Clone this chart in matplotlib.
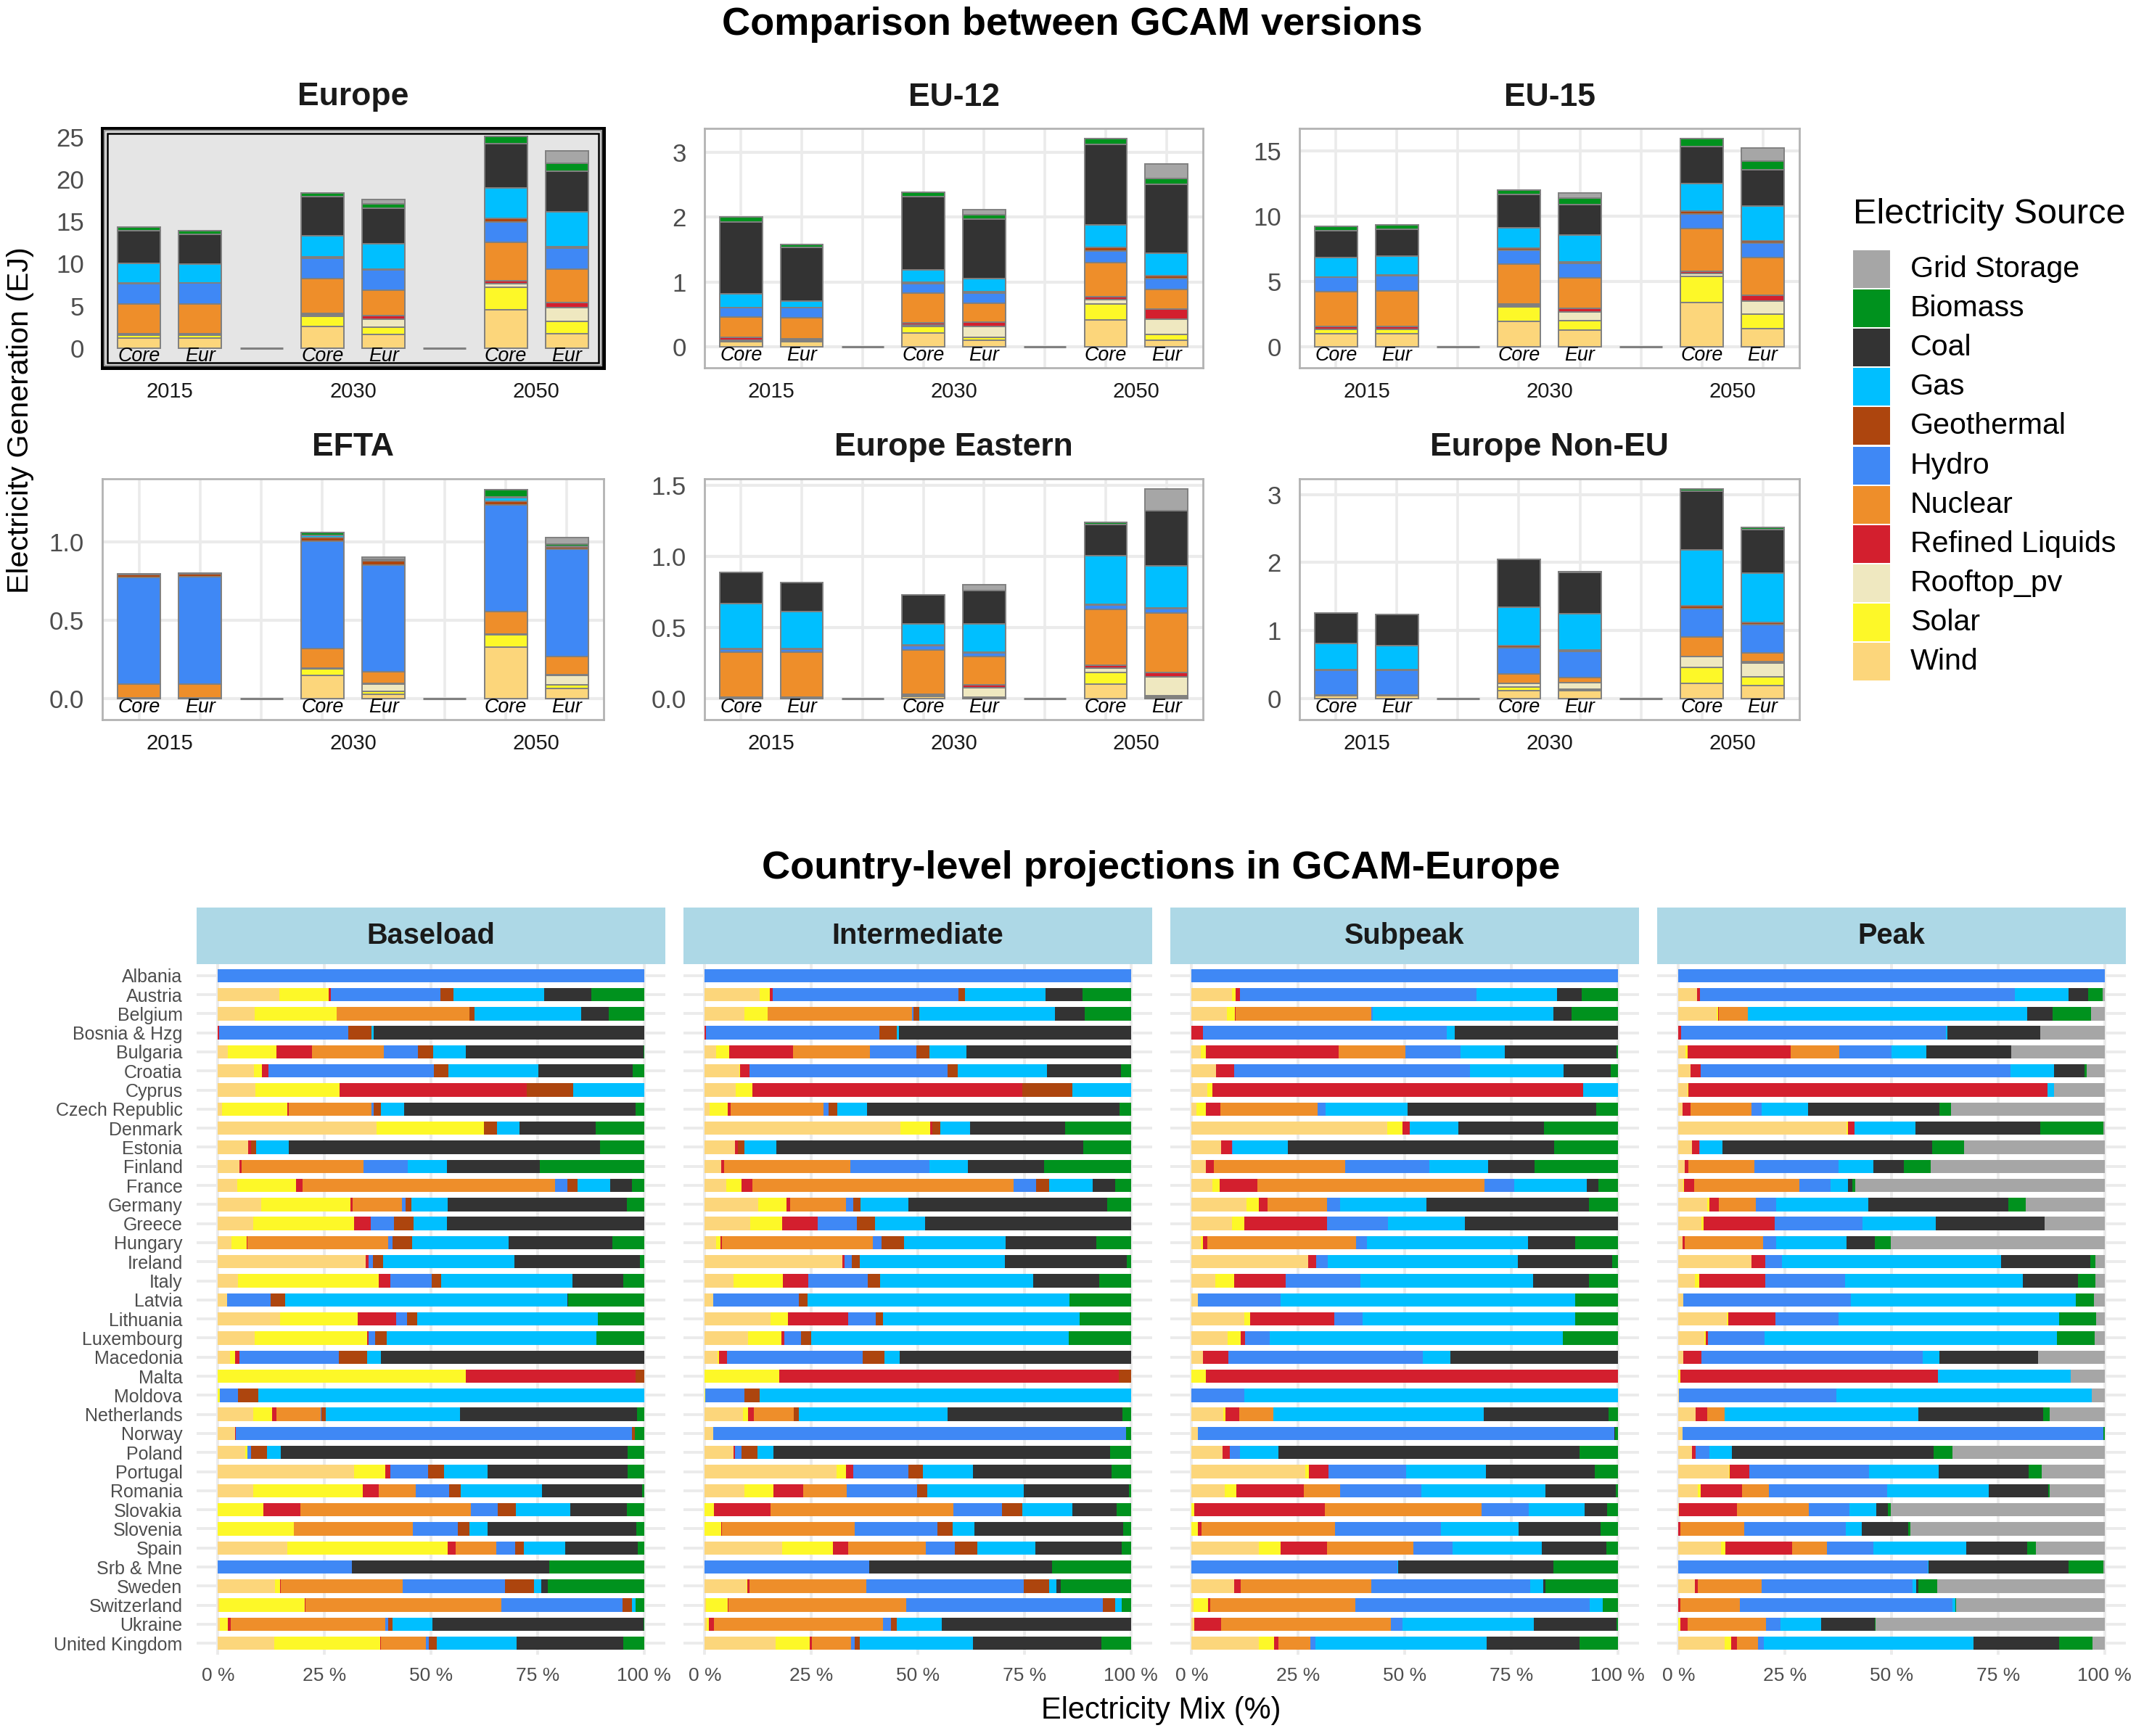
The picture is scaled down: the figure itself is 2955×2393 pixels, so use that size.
import numpy as np
import matplotlib
matplotlib.use("Agg")
import matplotlib.pyplot as plt
from matplotlib.patches import Rectangle

plt.rcParams['font.family'] = ['Liberation Sans', 'DejaVu Sans']

W, H, DPI = 2955, 2393, 200

# legend order (top -> bottom); stacking uses the reverse
sources = ['Grid Storage', 'Biomass', 'Coal', 'Gas', 'Geothermal', 'Hydro',
           'Nuclear', 'Refined Liquids', 'Rooftop_pv', 'Solar', 'Wind']
colors = ['#A6A6A6', '#00921E', '#333333', '#00BFFF', '#AD450E', '#3F88F5',
          '#EE8E2A', '#D31F2E', '#EFE8C0', '#FDF828', '#FCD67B']
stack = sources[::-1]
col_of = dict(zip(sources, colors))

# ---- top: generation by region (EJ); columns follow `stack`
# Wind, Solar, Rooftop_pv, Refined Liquids, Nuclear, Hydro, Geothermal, Gas, Coal, Biomass, Grid Storage
bar_labels = ['Core', 'Eur', 'Core', 'Eur', 'Core', 'Eur']
years = ['2015', '2030', '2050']
regions = ['Europe', 'EU-12', 'EU-15', 'EFTA', 'Europe Eastern', 'Europe Non-EU']

europe = [[1.16, 0.38, 0.05, 0.15, 3.50, 2.42, 0.05, 2.33, 3.87, 0.46, 0],
          [1.16, 0.38, 0.05, 0.15, 3.49, 2.47, 0.05, 2.19, 3.58, 0.38, 0],
          [2.53, 1.25, 0.15, 0.20, 4.10, 2.44, 0.17, 2.47, 4.62, 0.46, 0],
          [1.60, 0.87, 0.96, 0.41, 2.99, 2.41, 0.15, 2.96, 4.19, 0.58, 0.52],
          [4.56, 2.62, 0.47, 0.29, 4.62, 2.41, 0.38, 3.60, 5.26, 0.84, 0],
          [1.74, 1.45, 1.60, 0.64, 3.95, 2.44, 0.20, 4.10, 4.86, 0.90, 1.45]]
eu12 = [[0.075, 0.015, 0.015, 0.035, 0.32, 0.14, 0, 0.22, 1.10, 0.08, 0],
        [0.075, 0.015, 0.015, 0.02, 0.325, 0.153, 0, 0.105, 0.82, 0.05, 0],
        [0.21, 0.10, 0.026, 0.03, 0.456, 0.15, 0.026, 0.183, 1.13, 0.07, 0],
        [0.097, 0.045, 0.168, 0.075, 0.288, 0.15, 0.03, 0.198, 0.922, 0.067, 0.07],
        [0.415, 0.24, 0.075, 0.037, 0.53, 0.18, 0.052, 0.351, 1.244, 0.082, 0],
        [0.097, 0.093, 0.232, 0.157, 0.30, 0.176, 0.037, 0.347, 1.065, 0.09, 0.228]]
eu15 = [[0.98, 0.33, 0.02, 0.20, 2.69, 1.11, 0.02, 1.46, 2.08, 0.33, 0],
        [0.98, 0.33, 0.02, 0.20, 2.73, 1.20, 0.02, 1.46, 2.06, 0.32, 0],
        [1.97, 1.06, 0.13, 0.09, 3.06, 1.08, 0.15, 1.60, 2.52, 0.35, 0],
        [1.26, 0.74, 0.65, 0.32, 2.32, 1.11, 0.10, 2.04, 2.38, 0.50, 0.37],
        [3.40, 1.99, 0.20, 0.17, 3.31, 1.08, 0.26, 2.08, 2.84, 0.61, 0],
        [1.36, 1.15, 0.98, 0.43, 2.91, 1.11, 0.15, 2.71, 2.75, 0.70, 0.98]]
efta = [[0.005, 0, 0, 0, 0.085, 0.686, 0.016, 0.004, 0, 0, 0],
        [0.005, 0, 0, 0, 0.085, 0.690, 0.016, 0.004, 0, 0, 0],
        [0.148, 0.039, 0, 0.005, 0.128, 0.686, 0.023, 0.016, 0, 0.017, 0],
        [0.028, 0.016, 0.047, 0.003, 0.075, 0.682, 0.028, 0.005, 0, 0.005, 0.015],
        [0.328, 0.078, 0.005, 0, 0.143, 0.686, 0.020, 0.023, 0.005, 0.050, 0],
        [0.062, 0.023, 0.062, 0.003, 0.118, 0.686, 0.016, 0.005, 0, 0.013, 0.044]]
eastern = [[0.005, 0.003, 0, 0, 0.318, 0.023, 0.003, 0.318, 0.218, 0, 0],
           [0.005, 0.003, 0, 0, 0.318, 0.022, 0.003, 0.261, 0.205, 0, 0],
           [0.015, 0.008, 0.008, 0, 0.312, 0.027, 0.005, 0.150, 0.203, 0, 0],
           [0.008, 0.004, 0.065, 0.019, 0.201, 0.026, 0.005, 0.200, 0.232, 0, 0.043],
           [0.103, 0.079, 0.033, 0.017, 0.395, 0.034, 0.005, 0.339, 0.220, 0.014, 0],
           [0.010, 0.008, 0.137, 0.027, 0.419, 0.031, 0.005, 0.300, 0.386, 0, 0.151]]
non_eu = [[0.036, 0.005, 0, 0, 0.005, 0.37, 0.005, 0.39, 0.45, 0, 0],
          [0.036, 0.005, 0, 0, 0.005, 0.37, 0.005, 0.355, 0.455, 0, 0],
          [0.118, 0.054, 0.054, 0, 0.133, 0.387, 0.029, 0.563, 0.71, 0, 0],
          [0.111, 0.025, 0.10, 0, 0.068, 0.388, 0.025, 0.531, 0.603, 0.01, 0],
          [0.226, 0.233, 0.161, 0, 0.287, 0.413, 0.047, 0.815, 0.872, 0.025, 0],
          [0.190, 0.133, 0.197, 0.018, 0.136, 0.413, 0.036, 0.718, 0.646, 0.029, 0]]

ylims = [(-2.33, 26.02), (-0.325, 3.366), (-1.615, 16.73),
         (-0.136, 1.406), (-0.149, 1.548), (-0.312, 3.233)]
yticks = [[0, 5, 10, 15, 20, 25], [0, 1, 2, 3], [0, 5, 10, 15],
          [0.0, 0.5, 1.0], [0.0, 0.5, 1.0, 1.5], [0, 1, 2, 3]]
ytick_labels = [['0', '5', '10', '15', '20', '25'], ['0', '1', '2', '3'],
                ['0', '5', '10', '15'], ['0.0', '0.5', '1.0'],
                ['0.0', '0.5', '1.0', '1.5'], ['0', '1', '2', '3']]

# ---- bottom: electricity mix (%) per country and load segment, columns follow `stack`
countries = ['Albania', 'Austria', 'Belgium', 'Bosnia & Hzg', 'Bulgaria', 'Croatia', 'Cyprus',
             'Czech Republic', 'Denmark', 'Estonia', 'Finland', 'France', 'Germany', 'Greece',
             'Hungary', 'Ireland', 'Italy', 'Latvia', 'Lithuania', 'Luxembourg', 'Macedonia',
             'Malta', 'Moldova', 'Netherlands', 'Norway', 'Poland', 'Portugal', 'Romania',
             'Slovakia', 'Slovenia', 'Spain', 'Srb & Mne', 'Sweden', 'Switzerland', 'Ukraine',
             'United Kingdom']
segments = ['Baseload', 'Intermediate', 'Subpeak', 'Peak']
mix_ticks = [0, 25, 50, 75, 100]
mix_tick_labels = ['0 %', '25 %', '50 %', '75 %', '100 %']

baseload = [
    [0, 0, 0, 0, 0, 100, 0, 0, 0, 0, 0],
    [14.5, 11.6, 0, 0.4, 0, 25.8, 3.0, 21.3, 11.1, 12.4, 0],
    [8.7, 19.2, 0, 0, 31.2, 0, 1.2, 24.9, 6.5, 8.3, 0],
    [0, 0, 0, 0.2, 0, 30.4, 5.5, 0.4, 63.5, 0, 0],
    [2.4, 11.4, 0, 8.2, 16.9, 8.0, 3.6, 7.7, 41.7, 0.1, 0],
    [8.5, 1.9, 0, 1.4, 0, 39.0, 3.4, 21.0, 22.2, 2.7, 0],
    [8.8, 19.8, 0, 43.9, 0, 0, 10.8, 16.7, 0, 0, 0],
    [0.9, 15.3, 0, 0.4, 19.5, 0.4, 1.7, 5.5, 54.4, 1.9, 0],
    [37.3, 25.1, 0, 0, 0, 0, 3.1, 5.3, 17.9, 11.3, 0],
    [7.1, 0, 0, 0.6, 0, 0, 1.3, 7.6, 73.0, 10.3, 0],
    [5.1, 0, 0, 0.5, 28.5, 10.4, 0, 9.2, 21.8, 24.5, 0],
    [4.5, 13.9, 0, 1.4, 59.3, 2.9, 2.4, 7.7, 5.1, 2.8, 0],
    [10.1, 21.0, 0, 0.5, 11.6, 0.9, 1.4, 8.5, 42.1, 4.0, 0],
    [8.3, 23.7, 0, 3.9, 0, 5.3, 4.7, 7.8, 46.2, 0, 0],
    [3.2, 3.6, 0, 0.2, 32.9, 1.1, 4.6, 22.7, 24.3, 7.4, 0],
    [34.7, 0, 0, 0.7, 0, 0.9, 2.5, 30.7, 29.5, 0.9, 0],
    [4.7, 33.1, 0, 2.7, 0, 9.7, 2.1, 30.9, 11.9, 4.9, 0],
    [2.2, 0, 0, 0, 0, 10.2, 3.4, 66.1, 0.2, 17.8, 0],
    [14.6, 18.2, 0, 8.9, 0, 2.7, 2.4, 42.3, 0, 10.8, 0],
    [8.7, 26.3, 0, 0.3, 0, 1.6, 2.7, 49.2, 0, 11.2, 0],
    [2.9, 1.2, 0, 1.0, 0, 23.3, 6.7, 3.1, 61.8, 0, 0],
    [0, 58.1, 0, 40.0, 0, 0, 1.9, 0, 0, 0, 0],
    [0, 0.5, 0, 0, 0, 4.2, 4.8, 90.5, 0, 0, 0],
    [8.3, 4.5, 0, 0.9, 10.4, 0.2, 1.0, 31.5, 41.6, 1.7, 0],
    [4.0, 0, 0, 0.2, 0, 93.0, 0.6, 0, 0, 2.2, 0],
    [6.4, 0.5, 0, 0, 0, 0.8, 3.9, 3.2, 81.4, 3.8, 0],
    [32.0, 7.3, 0, 1.2, 0, 8.9, 3.7, 10.1, 33.0, 3.8, 0],
    [8.2, 25.7, 0, 3.8, 8.7, 7.8, 2.7, 19.1, 23.5, 0.4, 0],
    [0, 10.6, 0, 8.8, 39.9, 6.3, 4.3, 12.8, 13.3, 4.0, 0],
    [0, 17.9, 0, 0, 27.8, 10.6, 2.7, 4.2, 35.0, 1.8, 0],
    [16.2, 37.7, 0, 1.9, 9.5, 4.4, 2.1, 9.7, 17.1, 1.4, 0],
    [0, 0, 0, 0, 0, 31.5, 0, 0, 46.2, 22.3, 0],
    [13.4, 1.1, 0, 0.3, 28.6, 23.9, 6.8, 1.7, 1.5, 22.6, 0],
    [0.2, 20.2, 0, 0.1, 45.8, 28.4, 2.3, 0.9, 0, 1.9, 0],
    [0.5, 1.9, 0, 0.6, 36.3, 0.7, 1.0, 9.3, 49.6, 0.1, 0],
    [13.3, 24.9, 0, 0.1, 10.6, 0.6, 1.9, 18.7, 25.1, 4.9, 0]]

intermediate = [
    [0, 0, 0, 0, 0, 100, 0, 0, 0, 0, 0],
    [12.8, 2.4, 0, 0.8, 0, 43.6, 1.5, 18.8, 8.8, 11.3, 0],
    [9.3, 5.5, 0, 0, 33.8, 0.3, 1.4, 31.9, 7.0, 10.8, 0],
    [0, 0, 0, 0.3, 0, 40.6, 4.2, 0.5, 54.3, 0, 0],
    [2.7, 3.1, 0, 14.9, 18.1, 10.9, 3.1, 8.7, 38.6, 0, 0],
    [8.1, 0.2, 0, 2.2, 0, 46.4, 2.4, 21.0, 17.4, 2.3, 0],
    [7.3, 3.9, 0, 63.3, 0, 0, 11.8, 13.7, 0, 0, 0],
    [1.1, 4.3, 0, 0.6, 21.8, 1.2, 2.0, 7.0, 59.2, 2.7, 0],
    [45.9, 7.0, 0, 0.5, 0, 0, 1.9, 7.0, 22.3, 15.4, 0],
    [7.0, 0, 0, 0.7, 0, 0.1, 1.5, 7.5, 71.9, 11.2, 0],
    [3.9, 0, 0, 0.7, 29.5, 18.6, 0.1, 8.9, 17.9, 20.4, 0],
    [5.1, 3.6, 0, 2.5, 61.2, 5.3, 3.2, 10.1, 5.3, 3.7, 0],
    [12.6, 6.5, 0, 0.9, 13.1, 1.7, 1.7, 11.3, 46.7, 5.5, 0],
    [10.6, 7.5, 0, 8.4, 0, 9.2, 4.3, 11.8, 48.3, 0, 0],
    [2.7, 0.9, 0, 0.4, 35.4, 2.1, 5.3, 23.8, 21.3, 8.1, 0],
    [32.2, 0, 0, 0.6, 0, 1.6, 1.9, 34.1, 28.6, 0.9, 0],
    [6.8, 11.6, 0, 6.0, 0, 13.9, 2.9, 36.0, 15.6, 7.4, 0],
    [2.0, 0, 0, 0, 0, 20.0, 2.2, 61.4, 0, 14.4, 0],
    [15.5, 4.1, 0, 14.0, 0, 6.6, 1.7, 46.1, 0, 12.0, 0],
    [10.2, 7.8, 0, 0.6, 0, 3.9, 2.4, 60.5, 0, 14.6, 0],
    [3.0, 0.4, 0, 1.9, 0, 31.7, 5.1, 3.6, 54.3, 0, 0],
    [0, 17.5, 0, 79.7, 0, 0, 2.8, 0, 0, 0, 0],
    [0, 0.1, 0, 0, 0, 9.2, 3.6, 87.1, 0, 0, 0],
    [9.0, 1.1, 0, 1.4, 9.4, 0, 1.1, 34.8, 41.1, 1.9, 0],
    [2.0, 0, 0, 0, 0, 96.8, 0.1, 0, 0, 1.1, 0],
    [6.8, 0, 0, 0.3, 0, 1.6, 3.7, 3.7, 79.0, 4.9, 0],
    [31.0, 2.1, 0, 1.7, 0, 13.0, 3.4, 11.8, 32.6, 4.5, 0],
    [9.3, 6.8, 0, 7.0, 10.1, 16.5, 2.4, 22.7, 24.7, 0.4, 0],
    [0, 2.2, 0, 13.3, 42.8, 11.4, 4.8, 11.8, 10.4, 3.3, 0],
    [0, 3.9, 0, 0.2, 31.2, 19.3, 3.6, 5.1, 35.0, 1.8, 0],
    [18.2, 11.8, 0, 3.7, 18.1, 6.8, 5.3, 13.6, 20.2, 2.2, 0],
    [0, 0, 0, 0, 0, 38.5, 0, 0, 42.9, 18.5, 0],
    [9.8, 0.1, 0, 0.6, 27.4, 37.0, 6.0, 1.7, 1.0, 16.4, 0],
    [0.2, 5.2, 0, 0.1, 41.8, 46.2, 2.9, 1.4, 0, 2.2, 0],
    [0.5, 0.5, 0, 1.2, 39.6, 1.9, 1.4, 10.6, 44.4, 0, 0],
    [16.6, 8.1, 0, 0.4, 9.2, 0.9, 1.2, 26.6, 30.2, 6.9, 0]]

subpeak = [
    [0, 0, 0, 0, 0, 100, 0, 0, 0, 0, 0],
    [9.4, 0.9, 0, 1.1, 0, 55.6, 0, 18.9, 5.7, 8.5, 0],
    [8.2, 2.0, 0, 0.1, 31.9, 0.2, 0, 42.4, 4.3, 10.8, 0],
    [0, 0, 0, 2.7, 0, 57.1, 0, 1.9, 38.3, 0, 0],
    [2.2, 1.2, 0, 31.1, 15.7, 12.8, 0, 10.4, 26.3, 0.2, 0],
    [5.8, 0, 0, 4.2, 0, 55.2, 0, 22.0, 11.1, 1.6, 0],
    [3.7, 1.1, 0, 87.1, 0, 0, 0, 8.1, 0, 0, 0],
    [1.2, 2.2, 0, 3.4, 22.8, 1.9, 0, 19.1, 44.3, 5.1, 0],
    [46.0, 3.6, 0, 1.6, 0, 0, 0, 11.4, 20.1, 17.4, 0],
    [7.0, 0, 0, 2.4, 0, 0.3, 0, 12.8, 62.6, 14.9, 0],
    [3.4, 0, 0, 1.9, 30.8, 19.7, 0, 13.8, 10.9, 19.6, 0],
    [4.9, 1.7, 0, 8.8, 53.3, 6.9, 0, 17.1, 2.6, 4.6, 0],
    [12.8, 2.9, 0, 2.2, 13.8, 3.2, 0, 20.2, 38.2, 6.7, 0],
    [9.4, 3.0, 0, 19.4, 0, 14.3, 0, 17.9, 35.9, 0, 0],
    [2.2, 0.4, 0, 1.0, 34.9, 2.6, 0, 37.8, 11.0, 10.0, 0],
    [27.3, 0, 0, 1.9, 0, 2.7, 0, 44.7, 22.2, 1.3, 0],
    [5.6, 4.3, 0, 12.1, 0, 17.6, 0, 40.6, 13.1, 6.7, 0],
    [1.5, 0, 0, 0, 0, 19.4, 0, 69.0, 0, 10.0, 0],
    [12.3, 1.5, 0, 19.7, 0, 6.6, 0, 49.9, 0, 10.0, 0],
    [8.5, 3.1, 0, 1.0, 0, 5.8, 0, 68.8, 0, 12.8, 0],
    [2.7, 0, 0, 6.0, 0, 45.6, 0, 6.5, 39.3, 0, 0],
    [0, 3.4, 0, 96.6, 0, 0, 0, 0, 0, 0, 0],
    [0, 0, 0, 0, 0, 12.4, 0, 87.6, 0, 0, 0],
    [7.5, 0.5, 0, 3.2, 8.0, 0, 0, 49.3, 29.3, 2.2, 0],
    [1.5, 0, 0, 0, 0, 97.7, 0, 0, 0.2, 0.6, 0],
    [7.2, 0, 0, 1.7, 0, 2.5, 0, 9.0, 70.6, 9.0, 0],
    [26.6, 0.9, 0, 4.7, 0, 18.2, 0, 18.6, 25.6, 5.4, 0],
    [7.8, 2.7, 0, 15.9, 8.4, 19.1, 0, 29.1, 16.6, 0.4, 0],
    [0, 0.7, 0, 30.5, 36.8, 11.0, 0, 13.1, 5.3, 2.5, 0],
    [0, 1.5, 0, 0.9, 31.3, 24.7, 0, 18.2, 19.3, 4.0, 0],
    [15.7, 5.2, 0, 10.9, 20.2, 9.3, 0, 20.8, 15.2, 2.7, 0],
    [0, 0, 0, 0, 0, 48.3, 0, 0.2, 36.4, 15.1, 0],
    [10.0, 0, 0, 1.6, 30.5, 37.3, 0, 3.1, 0.6, 16.9, 0],
    [0.5, 3.4, 0, 0.5, 33.9, 55.0, 0, 3.1, 0, 3.5, 0],
    [0.5, 0.2, 0, 6.2, 39.9, 2.7, 0, 30.7, 19.5, 0.2, 0],
    [15.7, 3.7, 0, 1.0, 7.5, 1.1, 0, 40.1, 21.8, 9.0, 0]]

peak = [
    [0, 0, 0, 0, 0, 100, 0, 0, 0, 0, 0],
    [4.4, 0, 0, 0.6, 0, 74.0, 0, 12.5, 4.6, 3.4, 0.5],
    [8.9, 0.4, 0, 0.2, 6.7, 0, 0, 65.6, 6.0, 9.0, 3.2],
    [0, 0, 0, 0.7, 0, 62.0, 0, 0.4, 21.7, 0, 15.1],
    [1.7, 0.5, 0, 24.2, 11.3, 12.3, 0, 8.2, 19.9, 0, 22.0],
    [2.9, 0, 0, 2.4, 0, 72.6, 0, 10.2, 7.2, 0.5, 4.2],
    [2.2, 0.1, 0, 84.2, 0, 0, 0, 1.5, 0, 0, 11.9],
    [0.9, 0, 0, 2.0, 14.2, 2.4, 0, 10.9, 30.8, 2.7, 36.1],
    [39.4, 0.4, 0, 1.6, 0, 0, 0, 14.2, 29.3, 14.9, 0.2],
    [3.1, 0, 0, 1.7, 0, 0.3, 0, 5.3, 49.2, 7.4, 33.0],
    [1.4, 0, 0, 0.9, 15.5, 19.8, 0, 8.2, 7.2, 6.2, 40.9],
    [1.2, 0.1, 0, 2.4, 24.7, 7.3, 0, 4.1, 1.0, 0.7, 58.4],
    [6.8, 0.4, 0, 2.2, 8.8, 4.8, 0, 21.6, 32.8, 4.1, 18.5],
    [5.3, 0.6, 0, 16.7, 0, 20.6, 0, 17.1, 25.5, 0, 14.1],
    [1.0, 0, 0, 0.4, 18.4, 3.2, 0, 16.4, 6.6, 3.8, 50.2],
    [17.2, 0, 0, 3.2, 0, 3.9, 0, 51.4, 20.8, 1.2, 2.2],
    [3.9, 1.0, 0, 15.5, 0, 18.7, 0, 41.8, 12.8, 4.1, 2.2],
    [1.2, 0, 0, 0, 0, 39.3, 0, 52.7, 0, 4.2, 2.5],
    [11.4, 0.2, 0, 11.2, 0, 14.8, 0, 51.6, 0, 8.7, 2.0],
    [6.0, 0.4, 0, 0.5, 0, 13.3, 0, 68.7, 0, 8.8, 2.4],
    [1.2, 0, 0, 4.2, 0, 51.8, 0, 3.9, 23.2, 0, 15.6],
    [0, 0.4, 0, 60.5, 0, 0, 0, 31.2, 0, 0, 8.0],
    [0.1, 0, 0, 0, 0, 37.0, 0, 59.8, 0, 0, 3.0],
    [4.1, 0, 0, 2.6, 4.2, 0, 0, 45.3, 29.3, 1.6, 12.8],
    [0.9, 0, 0, 0, 0, 98.9, 0, 0, 0, 0.3, 0],
    [3.2, 0, 0, 0.9, 0, 3.2, 0, 5.3, 47.3, 4.4, 35.6],
    [11.9, 0.2, 0, 4.6, 0, 28.1, 0, 16.2, 21.1, 3.1, 14.8],
    [4.6, 0.7, 0, 9.7, 6.3, 27.6, 0, 24.0, 13.8, 0.4, 12.9],
    [0.1, 0, 0, 13.6, 16.9, 9.5, 0, 6.3, 2.7, 0.6, 50.1],
    [0, 0, 0, 0.4, 15.1, 23.7, 0, 3.8, 11.0, 0.5, 45.5],
    [9.9, 1.1, 0, 15.6, 8.2, 10.9, 0, 21.8, 14.3, 2.1, 16.1],
    [0, 0, 0, 0, 0, 58.5, 0, 0.1, 32.9, 8.3, 0.2],
    [3.9, 0, 0, 0.6, 15.0, 35.4, 0, 0.9, 0.4, 4.4, 39.3],
    [0, 0, 0, 0.4, 14.0, 49.9, 0, 0.6, 0, 0.2, 34.9],
    [0, 0.4, 0, 1.7, 18.5, 3.4, 0, 9.4, 12.6, 0.2, 53.8],
    [10.9, 1.4, 0, 1.5, 4.8, 1.5, 0, 49.1, 20.2, 7.7, 2.9]]


def px_axes(fig, x0, y0, x1, y1):
    return fig.add_axes([x0 / W, 1 - y1 / H, (x1 - x0) / W, (y1 - y0) / H])


fig = plt.figure(figsize=(W / DPI, H / DPI), dpi=DPI)

# ---------------- top section ----------------
fig.text(0.5, 1 - 34 / H, 'Comparison between GCAM versions', ha='center', va='center',
         fontsize=19.5, fontweight='bold')

cols = [(141, 832), (971, 1658), (1791, 2480)]
rows = [(177, 507), (660, 992)]
title_y = [134, 617]
pos = [1, 2, 4, 5, 7, 8]
gaps = [3, 6]
grid_c = '#EBEBEB'

region_data = [europe, eu12, eu15, efta, eastern, non_eu]
for i, (name, vals) in enumerate(zip(regions, region_data)):
    r, c = divmod(i, 3)
    x0, x1 = cols[c]
    y0, y1 = rows[r]
    ax = px_axes(fig, x0, y0, x1, y1)
    v = np.array(vals, dtype=float)
    bottom = np.zeros(len(pos))
    for j, src in enumerate(stack):
        ax.bar(pos, v[:, j], width=0.7, bottom=bottom, color=col_of[src],
               edgecolor='#808080', linewidth=0.7, zorder=3)
        bottom += v[:, j]
    ax.bar(gaps, [0, 0], width=0.7, color='none', edgecolor='#808080', linewidth=1.1, zorder=3)
    lo, hi = ylims[i]
    for p, lab in zip(pos, bar_labels):
        ax.text(p, lo * 0.41, lab, ha='center', va='center', style='italic', fontsize=9.7, zorder=4)
    ax.set_xlim(0.4, 8.6)
    ax.set_ylim(lo, hi)
    ax.set_yticks(yticks[i])
    ax.set_yticklabels(ytick_labels[i])
    ax.set_xticks([1.5, 4.5, 7.5])
    ax.set_xticklabels(years)
    ax.set_xticks(range(1, 9), minor=True)
    ax.tick_params(axis='y', length=0, pad=9, labelsize=12.5, labelcolor='#4D4D4D')
    ax.tick_params(axis='x', which='both', length=0, pad=7, labelsize=10.5, labelcolor='#1A1A1A')
    ax.set_axisbelow(True)
    if name == 'Europe':
        ax.set_facecolor('#E5E5E5')
        for s in ax.spines.values():
            s.set_color('black')
            s.set_linewidth(1.8)
        dx, dy = 3.4 / (x1 - x0), 3.4 / (y1 - y0)
        ax.add_patch(Rectangle((dx, dy), 1 - 2 * dx, 1 - 2 * dy, transform=ax.transAxes,
                               fill=False, edgecolor='#9A9A9A', linewidth=0.8, zorder=5, clip_on=False))
        ax.add_patch(Rectangle((2 * dx, 2 * dy), 1 - 4 * dx, 1 - 4 * dy, transform=ax.transAxes,
                               fill=False, edgecolor='black', linewidth=0.9, zorder=5, clip_on=False))
    else:
        ax.set_facecolor('white')
        ax.grid(axis='y', which='major', color=grid_c, linewidth=1.5, zorder=0)
        ax.grid(axis='x', which='minor', color=grid_c, linewidth=1.3, zorder=0)
        for s in ax.spines.values():
            s.set_color('#B3B3B3')
            s.set_linewidth(1.0)
    fig.text((x0 + x1) / 2 / W, 1 - title_y[r] / H, name, ha='center', va='center',
             fontsize=16, fontweight='bold', color='#1A1A1A')

fig.text(28 / W, 1 - 579 / H, 'Electricity Generation (EJ)', rotation=90,
         ha='center', va='center', fontsize=14.8)

# legend
fig.text(2554 / W, 1 - 296 / H, 'Electricity Source', ha='left', va='center', fontsize=17.5)
for k, src in enumerate(sources):
    yc = 371 + k * 54.1
    fig.patches.append(Rectangle((2554 / W, 1 - (yc + 26) / H), 51 / W, 52 / H,
                                 transform=fig.transFigure, facecolor=col_of[src],
                                 edgecolor='none'))
    fig.text(2633 / W, 1 - yc / H, src, ha='left', va='center', fontsize=14.8)

# ---------------- bottom section ----------------
fig.text(1600 / W, 1 - 1197 / H, 'Country-level projections in GCAM-Europe', ha='center',
         va='center', fontsize=19.5, fontweight='bold')

seg_data = [baseload, intermediate, subpeak, peak]
ypos = np.arange(len(countries))
for k, (seg, data) in enumerate(zip(segments, seg_data)):
    x0 = 271 + k * 671
    x1 = x0 + 646
    ax = px_axes(fig, x0, 1329, x1, 2281)
    v = np.array(data, dtype=float)
    v = v / v.sum(axis=1, keepdims=True) * 100
    left = np.zeros(len(countries))
    for j, src in enumerate(stack):
        ax.barh(ypos, v[:, j], left=left, height=0.7, color=col_of[src], linewidth=0, zorder=3)
        left += v[:, j]
    ax.set_xlim(-5, 105)
    ax.set_ylim(len(countries) - 0.4, -0.6)
    ax.set_xticks(mix_ticks)
    ax.set_xticklabels(mix_tick_labels)
    ax.set_yticks(ypos)
    if k == 0:
        ax.set_yticklabels(countries)
    else:
        ax.set_yticklabels([])
    ax.tick_params(axis='y', length=0, pad=7, labelsize=9, labelcolor='#4D4D4D')
    ax.tick_params(axis='x', length=0, pad=6, labelsize=9.5, labelcolor='#4D4D4D')
    ax.grid(True, color=grid_c, linewidth=1.4, zorder=0)
    ax.set_axisbelow(True)
    for s in ax.spines.values():
        s.set_visible(False)
    # strip
    sax = px_axes(fig, x0, 1251, x1, 1329)
    sax.set_facecolor('#ADD8E6')
    sax.set_xticks([])
    sax.set_yticks([])
    for s in sax.spines.values():
        s.set_visible(False)
    sax.text(0.5, 0.5, seg, transform=sax.transAxes, ha='center', va='center',
             fontsize=14.3, fontweight='bold', color='#1A1A1A')

fig.text(1600 / W, 1 - 2358 / H, 'Electricity Mix (%)', ha='center', va='center', fontsize=15)

fig.savefig('out.png', dpi=DPI, facecolor='white')
